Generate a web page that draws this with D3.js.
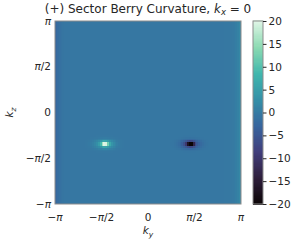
<!DOCTYPE html>
<html>
<head>
<meta charset="utf-8">
<script src="https://cdn.jsdelivr.net/npm/d3@7"></script>
<style>
  body { margin: 0; background: #fff; }
  text { font-family: "DejaVu Sans", sans-serif; fill: #262626; }
</style>
</head>
<body>
<svg id="chart" width="302" height="241"></svg>
<script>
const PI = Math.PI;
const gridN = 100;                                   // cells per side
const tickVals   = [-PI, -PI / 2, 0, PI / 2, PI];
const tickLabels = [["−", "π", ""], ["−", "π", "/2"], ["", "0", ""], ["", "π", "/2"], ["", "π", ""]];
const cbarTicks  = [-20, -15, -10, -5, 0, 5, 10, 15, 20];

// two curvature hot spots (ky, kz in units of π): sharp core + soft halo
const peakKy   = [-0.465, 0.455];
const peakKz   = [-0.34, -0.34];
const coreAmp  = [20, -20];
const coreSy   = [0.085, 0.085];   // rad
const coreSz   = [0.045, 0.045];
const haloAmp  = [7, -7];
const haloSy   = [0.22, 0.22];
const haloSz   = [0.1, 0.1];

// flat level and shading along the left / right ky edges
const bgLevel   = -0.4;
const edgeAmp   = [-2.4, 2.8];
const edgeWidth = [0.14, 0.14];

// mako colour map samples
const makoPos = [0, 1/7, 2/7, 3/7, 4/7, 5/7, 6/7, 1];
const makoCol = ["#0b0405", "#2e1e3b", "#413d7b", "#37659e", "#348fa7", "#40b7ad", "#8bdab2", "#def5e5"];

/* ——— layout ——————————————————————————————————————————— */
const svg = d3.select("#chart");
const plot = {left: 55, right: 241, top: 21, bottom: 204};
const cbar = {left: 253, right: 263};

const x = d3.scaleLinear([-PI, PI], [plot.left, plot.right]);
const y = d3.scaleLinear([-PI, PI], [plot.bottom, plot.top]);
const cy = d3.scaleLinear([-20, 20], [plot.bottom, plot.top]);
const colour = d3.scaleLinear(makoPos.map(p => -20 + 40 * p), makoCol)
  .interpolate(d3.interpolateRgb).clamp(true);

/* ——— field ———————————————————————————————————————————— */
const step = 2 * PI / gridN;
const centres = d3.range(gridN).map(i => -PI + (i + 0.5) * step);
function bump(dy, dz, a, sy, sz){
  const u = dy / sy, w = dz / sz;
  return a * Math.exp(-0.5 * (u * u + w * w));
}
function value(ky, kz){
  let v = bgLevel
        + edgeAmp[0] * Math.exp(-(ky + PI) / edgeWidth[0])
        + edgeAmp[1] * Math.exp(-(PI - ky) / edgeWidth[1]);
  peakKy.forEach((p, i) => {
    const dy = ky - p * PI, dz = kz - peakKz[i] * PI;
    v += bump(dy, dz, coreAmp[i], coreSy[i], coreSz[i])
       + bump(dy, dz, haloAmp[i], haloSy[i], haloSz[i]);
  });
  return v;
}
const cells = [];
centres.forEach(kz => centres.forEach(ky => cells.push({ky, kz, v: value(ky, kz)})));

const cw = x(step) - x(0), ch = y(0) - y(step);
svg.append("g").attr("shape-rendering", "crispEdges")
  .selectAll("rect").data(cells).join("rect")
    .attr("x", d => x(d.ky - step / 2))
    .attr("y", d => y(d.kz + step / 2))
    .attr("width", cw + 0.4)
    .attr("height", ch + 0.4)
    .attr("fill", d => colour(d.v));

svg.append("rect")
  .attr("x", plot.left).attr("y", plot.top)
  .attr("width", plot.right - plot.left).attr("height", plot.bottom - plot.top)
  .attr("fill", "none").attr("stroke", "#8c8c8c").attr("stroke-width", 1);

/* ——— tick labels ————————————————————————————————————— */
function piLabel(sel, parts){
  sel.append("tspan").text(parts[0]);
  sel.append("tspan").attr("font-style", parts[1] === "π" ? "italic" : "normal").text(parts[1]);
  if (parts[2]) sel.append("tspan").text(parts[2]);
}
tickVals.forEach((t, i) => {
  svg.append("text")
    .attr("x", x(t)).attr("y", 221)
    .attr("text-anchor", "middle").attr("font-size", 10.5)
    .call(piLabel, tickLabels[i]);
  svg.append("text")
    .attr("x", 51).attr("y", y(t) + 3.5)
    .attr("text-anchor", "end").attr("font-size", 10.5)
    .call(piLabel, tickLabels[i]);
});

svg.append("text").attr("x", (plot.left + plot.right) / 2).attr("y", 234)
  .attr("text-anchor", "middle").attr("font-size", 10.5)
  .call(s => { s.append("tspan").attr("font-style", "italic").text("k");
               s.append("tspan").attr("font-style", "italic").attr("font-size", 7.5).attr("dy", 2.5).text("y"); });

svg.append("text")
  .attr("transform", `translate(13,${(plot.top + plot.bottom) / 2}) rotate(-90)`)
  .attr("text-anchor", "middle").attr("font-size", 10.5)
  .call(s => { s.append("tspan").attr("font-style", "italic").text("k");
               s.append("tspan").attr("font-style", "italic").attr("font-size", 7.5).attr("dy", 2.5).text("z"); });

/* ——— title ———————————————————————————————————————————— */
svg.append("text").attr("x", 148).attr("y", 12.5)
  .attr("text-anchor", "middle").attr("font-size", 12)
  .call(s => {
    s.append("tspan").text("(+) Sector Berry Curvature, ");
    s.append("tspan").attr("font-style", "italic").text("k");
    s.append("tspan").attr("font-style", "italic").attr("font-size", 8.5).attr("dy", 2).text("x");
    s.append("tspan").attr("dy", -2).text(" = 0");
  });

/* ——— colour bar —————————————————————————————————————— */
const cvals = d3.range(-20, 20.01, 0.25);
svg.append("g").attr("shape-rendering", "crispEdges")
  .selectAll("rect").data(cvals).join("rect")
    .attr("x", cbar.left).attr("width", cbar.right - cbar.left)
    .attr("y", d => cy(d + 0.25))
    .attr("height", cy(0) - cy(0.25) + 0.5)
    .attr("fill", d => colour(d + 0.125));
svg.append("rect")
  .attr("x", cbar.left).attr("y", plot.top)
  .attr("width", cbar.right - cbar.left).attr("height", plot.bottom - plot.top)
  .attr("fill", "none").attr("stroke", "#8c8c8c");

const cAxis = svg.append("g").attr("transform", `translate(${cbar.right},0)`)
  .call(d3.axisRight(cy).tickValues(cbarTicks).tickSize(3.5).tickPadding(2)
        .tickFormat(d => d < 0 ? "−" + (-d) : d));
cAxis.select(".domain").remove();
cAxis.selectAll("line").attr("stroke", "#262626");
cAxis.selectAll("text").attr("font-size", 10.5).attr("font-family", "DejaVu Sans").attr("fill", "#262626");
</script>
</body>
</html>
